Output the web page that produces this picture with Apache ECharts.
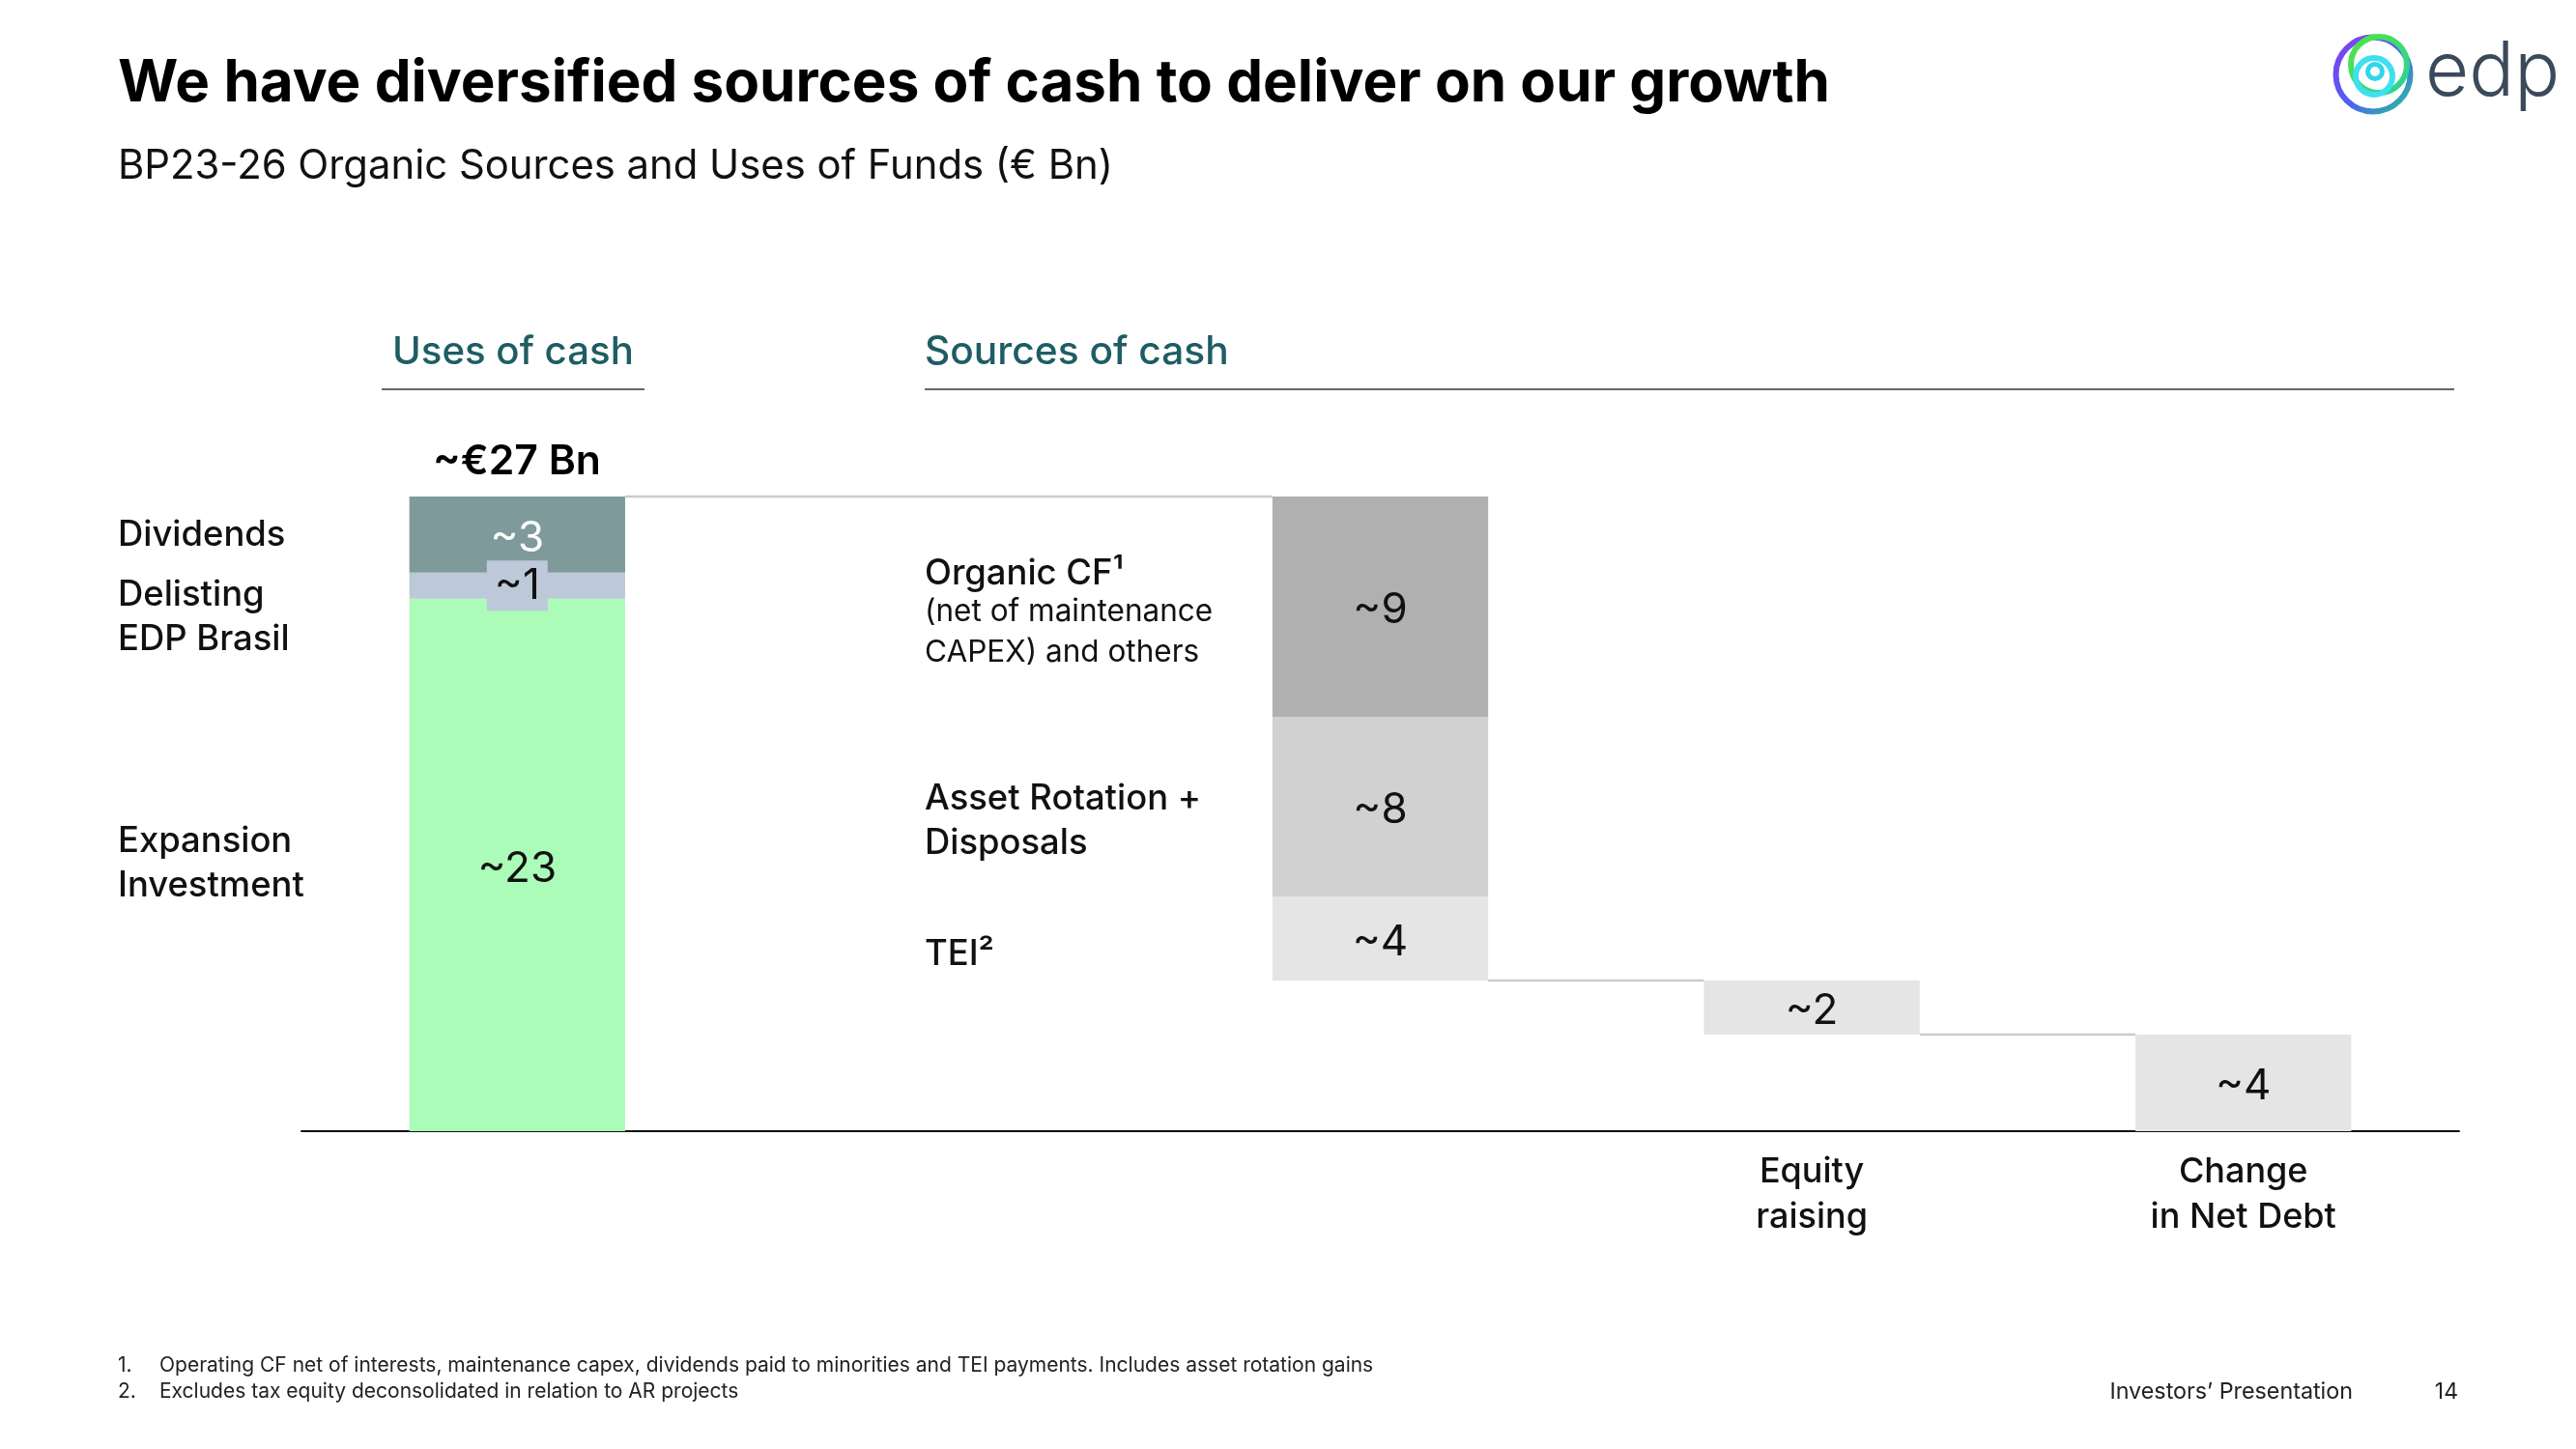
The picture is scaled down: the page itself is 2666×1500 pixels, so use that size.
<!DOCTYPE html>
<html>
<head>
<meta charset="utf-8">
<script src="https://cdn.jsdelivr.net/npm/echarts@6/dist/echarts.min.js"></script>
<style>html,body{margin:0;padding:0;background:#fff}#c{width:2666px;height:1500px}</style>
</head>
<body>
<div id="c"></div>
<script>
// ---------- DATA ----------
const categories = ['uses', 'gap', 'sources', 'equity', 'netDebt'];
const xTickLabels = ['', '', '', 'Equity\nraising', 'Change\nin Net Debt'];
const usesNames = ['Expansion\nInvestment', 'Delisting\nEDP Brasil', 'Dividends'];
const usesValues = [22.65, 1.11, 3.24];
const sourcesNames = ['TEI²', 'Asset Rotation +\nDisposals', 'Organic CF¹'];
const sourcesNote = '(net of maintenance\nCAPEX) and others';
const sourcesValues = [3.58, 7.64, 9.37];
const equityRaising = 2.30;
const netDebtChange = 4.11;
const titleText = 'We have diversified sources of cash to deliver on our growth';
const subtitleText = 'BP23-26 Organic Sources and Uses of Funds (€ Bn)';
const footnotes = [
  ['1.', 'Operating CF net of interests, maintenance capex, dividends paid to minorities and TEI payments. Includes asset rotation gains'],
  ['2.', 'Excludes tax equity deconsolidated in relation to AR projects']
];

// ---------- HELPERS ----------
const FONT = 'Inter';
const DY = 4; // vertical nudge for text centring
const mctx = document.createElement('canvas').getContext('2d');
function fit(text, weight, width) {
  const lines = String(text).split('\n');
  mctx.font = weight + ' 100px ' + FONT;
  let w = 0;
  lines.forEach(l => { w = Math.max(w, mctx.measureText(l).width); });
  return Math.round(1000 * width / w) / 10;
}
const usesTotal = usesValues.reduce((a, b) => a + b, 0);
const sourcesBase = equityRaising + netDebtChange;

function col(idx, v) { return categories.map((c, i) => i === idx ? v : '-'); }
const valueLabel = (color, extra) => Object.assign({
  show: true, position: 'inside', offset: [0, DY], color: color, fontFamily: FONT, fontSize: 44, fontWeight: 400,
  formatter: p => '~' + Math.round(p.value)
}, extra || {});

const series = [
  { name: 'base', type: 'bar', stack: 'w', barWidth: '50%', silent: true,
    itemStyle: { color: 'transparent' },
    data: categories.map((c, i) => i === 2 ? sourcesBase : i === 3 ? netDebtChange : '-') },
  { name: 'Expansion Investment', type: 'bar', stack: 'w', barWidth: '50%', data: col(0, usesValues[0]),
    itemStyle: { color: '#aafcb8' }, label: valueLabel('#111') },
  { name: 'Delisting EDP Brasil', type: 'bar', stack: 'w', barWidth: '50%', data: col(0, usesValues[1]),
    itemStyle: { color: '#bdc8d9' },
    label: valueLabel('#111', { offset: [0, 0], backgroundColor: '#bdc8d9', padding: [6, 8, 2, 8], lineHeight: 44 }) },
  { name: 'Dividends', type: 'bar', stack: 'w', barWidth: '50%', data: col(0, usesValues[2]),
    itemStyle: { color: '#7f9a9b' }, label: valueLabel('#ffffff') },
  { name: 'TEI', type: 'bar', stack: 'w', barWidth: '50%', data: col(2, sourcesValues[0]),
    itemStyle: { color: '#e5e5e5' }, label: valueLabel('#111') },
  { name: 'Asset Rotation', type: 'bar', stack: 'w', barWidth: '50%', data: col(2, sourcesValues[1]),
    itemStyle: { color: '#d1d1d1' }, label: valueLabel('#111') },
  { name: 'Organic CF', type: 'bar', stack: 'w', barWidth: '50%', data: col(2, sourcesValues[2]),
    itemStyle: { color: '#b0b0b0' }, label: valueLabel('#111') },
  { name: 'Equity raising', type: 'bar', stack: 'w', barWidth: '50%', data: col(3, equityRaising),
    itemStyle: { color: '#e5e5e5' }, label: valueLabel('#111') },
  { name: 'Change in Net Debt', type: 'bar', stack: 'w', barWidth: '50%', data: col(4, netDebtChange),
    itemStyle: { color: '#e5e5e5' }, label: valueLabel('#111') },
  { name: 'connectors', type: 'custom', silent: true, z: 1,
    encode: { x: [0, 1], y: 2 },
    data: [[0, 2, usesTotal], [2, 3, sourcesBase], [3, 4, netDebtChange]],
    renderItem: function (params, api) {
      const y = api.value(2);
      const p1 = api.coord([api.value(0), y]);
      const p2 = api.coord([api.value(1), y]);
      const half = api.size([1, 0])[0] * 0.25;
      return { type: 'line', shape: { x1: p1[0] + half, y1: p1[1], x2: p2[0] - half, y2: p1[1] },
               style: { stroke: '#cccccc', lineWidth: 2.5 } };
    } }
];

function txt(text, x, y, weight, size, color, extra) {
  return Object.assign({ type: 'text', x: x, y: y + DY, silent: true,
    style: Object.assign({ text: text, fill: color || '#111', fontFamily: FONT, fontWeight: weight,
      fontSize: size, verticalAlign: 'middle', align: 'left' }, extra || {}) });
}

const labelSize = fit('Investment', 500, 193);
const graphics = [
  txt(titleText, 122, 83, 700, fit(titleText, 700, 1773), '#000'),
  txt(subtitleText, 122, 168, 400, fit(subtitleText, 400, 1029), '#111'),
  txt('Uses of cash', 406, 361, 500, fit('Uses of cash', 500, 250), '#1e5d64'),
  txt('Sources of cash', 957, 361, 500, fit('Sources of cash', 500, 315), '#1e5d64'),
  { type: 'line', silent: true, shape: { x1: 395, y1: 403, x2: 667, y2: 403 }, style: { stroke: '#333', lineWidth: 1.5 } },
  { type: 'line', silent: true, shape: { x1: 957, y1: 403, x2: 2540, y2: 403 }, style: { stroke: '#333', lineWidth: 1.5 } },
  txt('~€' + Math.round(usesTotal) + ' Bn', 535, 474, 600, fit('~€27 Bn', 600, 174), '#000', { align: 'center' }),
  txt(usesNames[2], 122, 550, 500, labelSize),
  txt(usesNames[1], 122, 635, 500, labelSize, '#111', { lineHeight: 46 }),
  txt(usesNames[0], 122, 890, 500, labelSize, '#111', { lineHeight: 46 }),
  txt(sourcesNames[2], 957, 590, 500, fit('Asset Rotation +', 500, 286)),
  txt(sourcesNote, 957, 651, 400, fit('(net of maintenance', 400, 298), '#111', { lineHeight: 42 }),
  txt(sourcesNames[1], 957, 846, 500, fit('Asset Rotation +', 500, 286), '#111', { lineHeight: 46 }),
  txt(sourcesNames[0], 957, 984, 500, fit('Asset Rotation +', 500, 286)),
  // footnotes
  txt(footnotes[0][0], 122, 1410, 400, 21, '#222'),
  txt(footnotes[0][1], 165, 1410, 400, fit(footnotes[0][1], 400, 1256), '#222'),
  txt(footnotes[1][0], 122, 1437, 400, 21, '#222'),
  txt(footnotes[1][1], 165, 1437, 400, fit(footnotes[0][1], 400, 1256), '#222'),
  txt('Investors’ Presentation', 2435, 1437, 400, fit('Investors’ Presentation', 400, 252), '#222', { align: 'right' }),
  txt('14', 2544, 1437, 400, 23, '#222', { align: 'right' }),
  // logo
  { type: 'circle', silent: true, shape: { cx: 2456, cy: 77, r: 38.5 },
    style: { fill: 'none', lineWidth: 6,
      stroke: new echarts.graphic.LinearGradient(0, 0, 1, 1, [
        { offset: 0, color: '#8a3cf0' }, { offset: 0.55, color: '#4a62f2' }, { offset: 1, color: '#22d08a' }]) } },
  { type: 'circle', silent: true, shape: { cx: 2462, cy: 67, r: 29 },
    style: { fill: 'none', lineWidth: 6,
      stroke: new echarts.graphic.LinearGradient(0, 0, 1, 1, [
        { offset: 0, color: '#52e63c' }, { offset: 1, color: '#2ad0a0' }]) } },
  { type: 'circle', silent: true, shape: { cx: 2457, cy: 79, r: 19 },
    style: { fill: 'none', lineWidth: 6, stroke: '#3ee0f0' } },
  { type: 'circle', silent: true, shape: { cx: 2458, cy: 74, r: 7.5 },
    style: { fill: 'none', lineWidth: 5, stroke: '#2fd6e8' } },
  txt('edp', 2510, 72, 300, 78, '#3b4a5a')
];

const chart = echarts.init(document.getElementById('c'), null, { renderer: 'canvas' });
chart.setOption({
  backgroundColor: '#ffffff',
  animation: false,
  grid: { left: 312, right: 121, top: 514, bottom: 329, containLabel: false },
  xAxis: {
    type: 'category', data: categories,
    axisLine: { lineStyle: { color: '#111', width: 2 } },
    axisTick: { show: false },
    axisLabel: { interval: 0, margin: 19, color: '#111', fontFamily: FONT, fontWeight: 500,
      fontSize: fit('in Net Debt', 500, 192), lineHeight: 47,
      formatter: (v, i) => xTickLabels[i] },
  },
  yAxis: { type: 'value', min: 0, max: 27, show: false, splitLine: { show: false } },
  series: series,
  graphic: graphics
});
</script>
</body>
</html>
